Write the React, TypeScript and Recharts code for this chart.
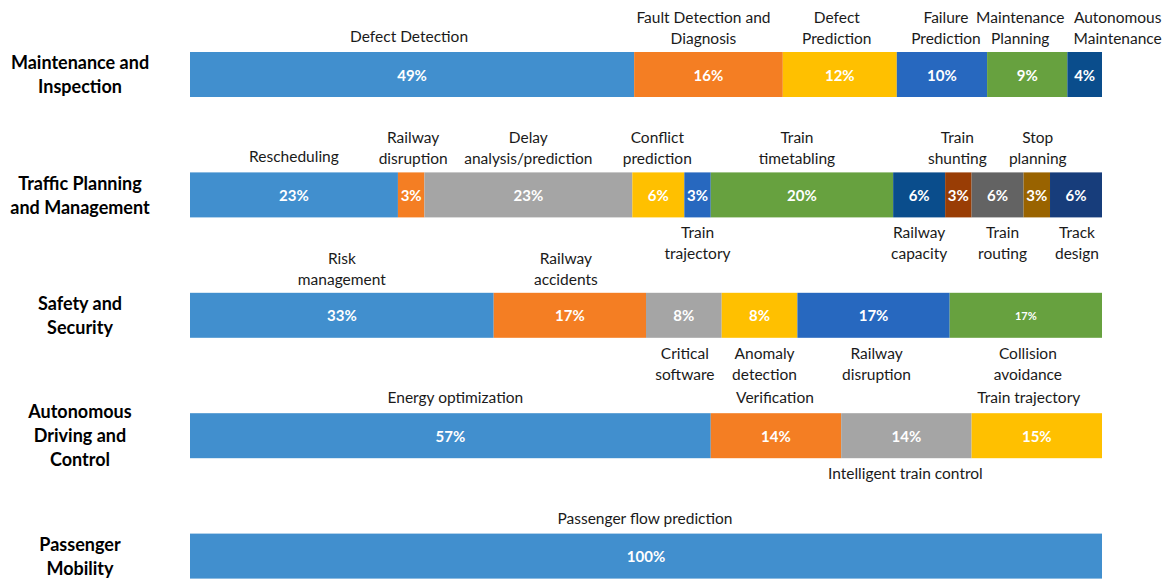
import React from 'react';
import { BarChart, Bar, XAxis, YAxis } from 'recharts';

// ---------- data ----------
const categories = [
  'Maintenance and Inspection',
  'Traffic Planning and Management',
  'Safety and Security',
  'Autonomous Driving and Control',
  'Passenger Mobility',
];
const categoryLines = [
  ['Maintenance and', 'Inspection'],
  ['Traffic Planning', 'and Management'],
  ['Safety and', 'Security'],
  ['Autonomous', 'Driving and', 'Control'],
  ['Passenger', 'Mobility'],
];

const maintenanceTopics = ['Defect Detection', 'Fault Detection and\nDiagnosis', 'Defect\nPrediction', 'Failure\nPrediction', 'Maintenance\nPlanning', 'Autonomous\nMaintenance'];
const maintenanceValues = [48.7, 16.3, 12.5, 9.9, 8.8, 3.8];
const maintenanceLabels = ['49%', '16%', '12%', '10%', '9%', '4%'];

const trafficTopics = ['Rescheduling', 'Railway\ndisruption', 'Delay\nanalysis/prediction', 'Conflict\nprediction', 'Train\ntrajectory', 'Train\ntimetabling', 'Railway\ncapacity', 'Train\nshunting', 'Train\nrouting', 'Stop\nplanning', 'Track\ndesign'];
const trafficValues = [22.8, 2.9, 22.8, 5.7, 2.9, 20.0, 5.7, 2.9, 5.7, 2.9, 5.7];
const trafficLabels = ['23%', '3%', '23%', '6%', '3%', '20%', '6%', '3%', '6%', '3%', '6%'];

const safetyTopics = ['Risk\nmanagement', 'Railway\naccidents', 'Critical\nsoftware', 'Anomaly\ndetection', 'Railway\ndisruption', 'Collision\navoidance'];
const safetyValues = [33.3, 16.7, 8.3, 8.3, 16.7, 16.7];
const safetyLabels = ['33%', '17%', '8%', '8%', '17%', '17%'];

const autonomousTopics = ['Energy optimization', 'Verification', 'Intelligent train control', 'Train trajectory'];
const autonomousValues = [57.1, 14.3, 14.3, 14.3];
const autonomousLabels = ['57%', '14%', '14%', '15%'];

const passengerTopics = ['Passenger flow prediction'];
const passengerValues = [100];
const passengerLabels = ['100%'];

// ---------- styling / layout ----------
const C = {
  lblue: '#418FCE', orange: '#F47E23', gray: '#A5A5A5', yellow: '#FFC000', mblue: '#2768BF',
  green: '#67A13F', dblue: '#0A4D8C', brown: '#993D05', dgray: '#636363', gold: '#996300', navy: '#173D7B',
};
const rowColors = [
  [C.lblue, C.orange, C.yellow, C.mblue, C.green, C.dblue],
  [C.lblue, C.orange, C.gray, C.yellow, C.mblue, C.green, C.dblue, C.brown, C.dgray, C.gold, C.navy],
  [C.lblue, C.orange, C.gray, C.yellow, C.mblue, C.green],
  [C.lblue, C.orange, C.gray, C.yellow],
  [C.lblue],
];
const rowSides = [
  ['a', 'a', 'a', 'a', 'a', 'a'],
  ['a', 'a', 'a', 'a', 'b', 'a', 'b', 'a', 'b', 'a', 'b'],
  ['a', 'a', 'b', 'b', 'b', 'b'],
  ['a', 'a', 'b', 'a'],
  ['a'],
];
const rowShifts = [
  [-3, -5, -3, 4, -7, 33],
  [0, 2, 0, -1, 0, -5, 0, -1, 5, 1, 1],
  [0, -4, 1, 5, 3, 2],
  [5, -1, -1, -8],
  [-1],
];
const pctSizeOverride: Record<string, number> = { '2-5': 11 };

const rowTopics = [maintenanceTopics, trafficTopics, safetyTopics, autonomousTopics, passengerTopics];
const rowValues = [maintenanceValues, trafficValues, safetyValues, autonomousValues, passengerValues];
const rowLabels = [maintenanceLabels, trafficLabels, safetyLabels, autonomousLabels, passengerLabels];

const MAX_SEG = 11;
const data = categories.map((name, r) => {
  const o: Record<string, any> = { name };
  rowValues[r].forEach((v, i) => { o[`s${i}`] = v; });
  return o;
});

const FONT = 'Lato, Carlito, Calibri, "Open Sans", sans-serif';

function makeShape(seg: number) {
  return (props: any) => {
    const { x, y, width, height, index } = props;
    const r = index;
    if (rowValues[r] === undefined || rowValues[r][seg] === undefined || !width) return <g />;
    const fill = rowColors[r][seg];
    const cx = x + width / 2;
    const cy = y + height / 2;
    const lines = rowTopics[r][seg].split('\n');
    const side = rowSides[r][seg];
    const shift = rowShifts[r][seg];
    const lh = 21;
    const fs = pctSizeOverride[`${r}-${seg}`] || 15;
    let ys: number[];
    if (side === 'a') {
      const last = lines.length === 1 ? y - 16 : y - 14;
      ys = lines.map((_, k) => last - (lines.length - 1 - k) * lh);
    } else {
      ys = lines.map((_, k) => y + height + 15 + k * lh);
    }
    return (
      <g>
        <rect x={x} y={y} width={width} height={height} fill={fill} />
        <text x={cx} y={cy} textAnchor="middle" dominantBaseline="central" fill="#ffffff"
          fontFamily={FONT} fontWeight={700} fontSize={fs}>{rowLabels[r][seg]}</text>
        {lines.map((ln, k) => (
          <text key={k} x={cx + shift} y={ys[k]} textAnchor="middle" dominantBaseline="central"
            fill="#1a1a1a" fontFamily={FONT} fontSize={15.5}>{ln}</text>
        ))}
      </g>
    );
  };
}

const CategoryTick = (props: any) => {
  const { y, payload } = props;
  const idx = categories.indexOf(payload.value);
  const lines = categoryLines[idx] || [payload.value];
  const n = lines.length;
  return (
    <g>
      {lines.map((ln, k) => (
        <text key={k} x={80} y={y + (k - (n - 1) / 2) * 24} textAnchor="middle" dominantBaseline="central"
          fill="#000000" fontFamily={FONT} fontWeight={700} fontSize={18}>{ln}</text>
      ))}
    </g>
  );
};

export default function App() {
  const bars = [];
  for (let i = 0; i < MAX_SEG; i++) {
    bars.push(
      <Bar key={i} dataKey={`s${i}`} stackId="a" barSize={45} isAnimationActive={false}
        shape={makeShape(i)} />
    );
  }
  return (
    <div style={{ position: 'absolute', left: 0, top: 0, width: 1171, height: 579, overflow: 'hidden', background: '#ffffff' }}>
      <BarChart width={1171} height={617} data={data} layout="vertical"
        margin={{ top: 14, right: 69, bottom: 1, left: 0 }}>
        <XAxis type="number" domain={[0, 100]} hide />
        <YAxis type="category" dataKey="name" width={190} axisLine={false} tickLine={false}
          tick={<CategoryTick />} interval={0} />
        {bars}
      </BarChart>
    </div>
  );
}
